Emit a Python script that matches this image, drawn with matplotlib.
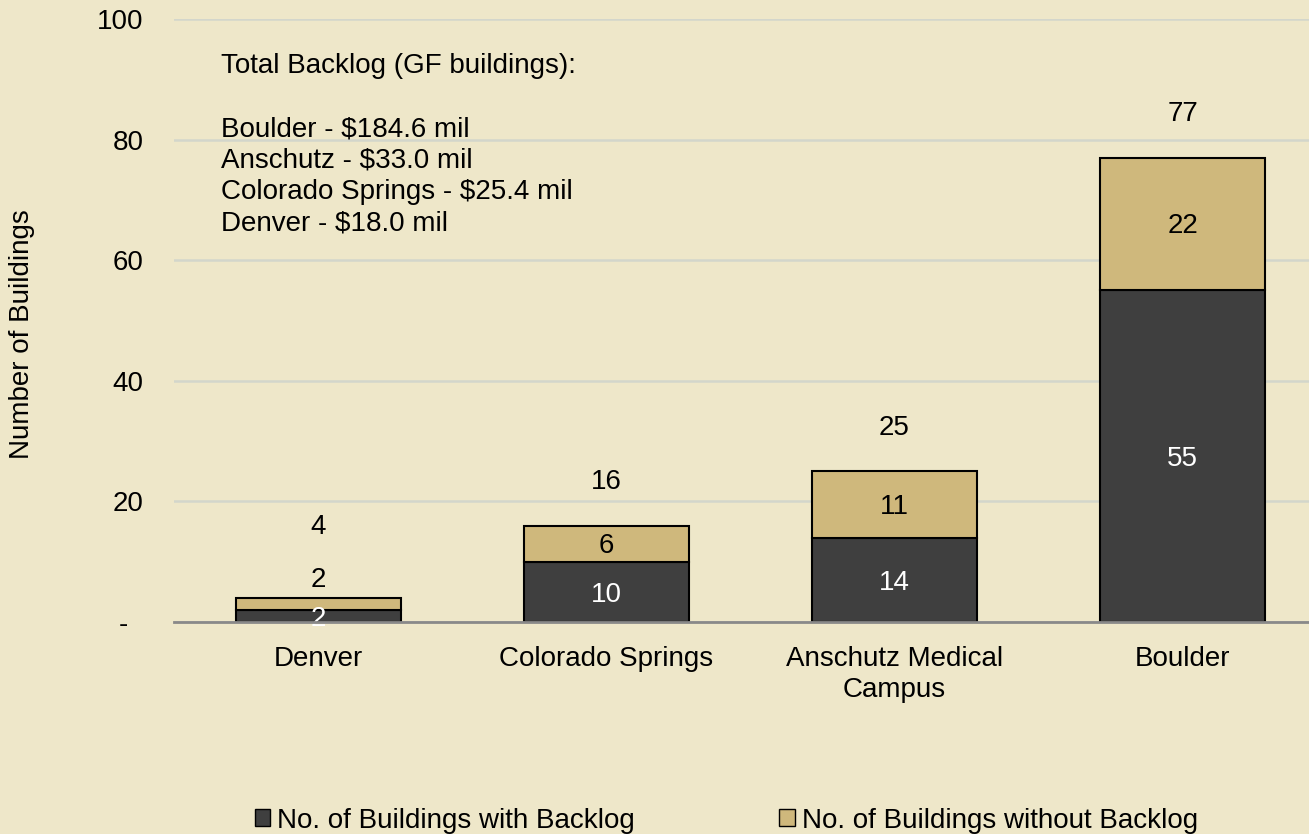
import matplotlib
matplotlib.use("Agg")
import matplotlib.pyplot as plt
from matplotlib.patches import Patch
import numpy as np

plt.rcParams['font.family'] = ['Liberation Sans', 'DejaVu Sans']

categories = ["Denver", "Colorado Springs", "Anschutz Medical\nCampus", "Boulder"]
with_backlog = [2, 10, 14, 55]
without_backlog = [2, 6, 11, 22]
totals = [4, 16, 25, 77]
yticks = [0, 20, 40, 60, 80, 100]
ytick_labels = ["-  ", "20", "40", "60", "80", "100"]
series_names = ["No. of Buildings with Backlog", "No. of Buildings without Backlog"]
note_lines = ["Total Backlog (GF buildings):", "",
              "Boulder - $184.6 mil", "Anschutz - $33.0 mil",
              "Colorado Springs - $25.4 mil", "Denver - $18.0 mil"]

BG = "#EEE7C9"
DARK = "#3F3F3F"
GOLD = "#CFB87C"
FS = 20

fig = plt.figure(figsize=(13.09, 8.34), dpi=100, facecolor=BG)
ax = fig.add_axes([174/1309, 212/834, 1 - 174/1309, (622-19)/834])
ax.set_facecolor(BG)

x = np.arange(len(categories))
w = 0.573
ax.bar(x, with_backlog, w, color=DARK, edgecolor="black", linewidth=1.5, zorder=3)
ax.bar(x, without_backlog, w, bottom=with_backlog, color=GOLD, edgecolor="black",
       linewidth=1.5, zorder=3)

for i in range(len(categories)):
    ax.text(x[i], with_backlog[i] / 2 - 0.5, str(with_backlog[i]), ha="center", va="center",
            color="white", fontsize=FS, zorder=4)
    tan_y = with_backlog[i] + without_backlog[i] / 2 - 0.4
    if i == 0:
        tan_y = totals[i] + 3
    ax.text(x[i], tan_y, str(without_backlog[i]), ha="center", va="center",
            color="black", fontsize=FS, zorder=4)
    tot_y = totals[i] + (11.7 if i == 0 else 7.2)
    ax.text(x[i], tot_y, str(totals[i]), ha="center", va="center",
            color="black", fontsize=FS, zorder=4)

ax.set_xlim(-0.5, 3.439)
ax.set_ylim(0, 100)
ax.set_yticks(yticks)
ax.set_yticklabels(ytick_labels)
ax.set_xticks(x)
ax.set_xticklabels(categories, fontsize=FS, linespacing=1.27)
ax.tick_params(axis="y", length=0, pad=22, labelsize=FS)
ax.tick_params(axis="x", length=0, pad=17, labelsize=FS)
ax.yaxis.grid(True, color="#D3D6CB", linewidth=1.8, zorder=0)
ax.set_axisbelow(True)
for s in ["top", "right", "left"]:
    ax.spines[s].set_visible(False)
ax.spines["bottom"].set_color("#898989")
ax.spines["bottom"].set_linewidth(2)
ax.spines["bottom"].set_zorder(5)

ax.text(-0.337, 94.3, "\n".join(note_lines), ha="left", va="top", fontsize=FS,
        linespacing=1.27, color="black")

fig.text(22/1309, 0.5995, "Number of Buildings", rotation=90, ha="center", va="center",
         fontsize=FS)

handles = [Patch(facecolor=DARK, edgecolor="black"), Patch(facecolor=GOLD, edgecolor="black")]
fig.legend(handles, series_names, loc="center left", bbox_to_anchor=(255/1309, 0.016),
           ncol=2, frameon=False, fontsize=FS, handlelength=0.55, handleheight=0.55,
           handletextpad=0.25, columnspacing=5.2, borderpad=0, borderaxespad=0)

fig.savefig("out.png", dpi=100, facecolor=BG)
